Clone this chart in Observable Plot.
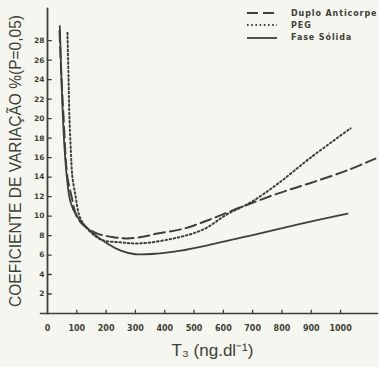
<!DOCTYPE html>
<html>
<head>
<meta charset="utf-8">
<script src="https://cdn.jsdelivr.net/npm/d3@7"></script>
<script src="https://cdn.jsdelivr.net/npm/@observablehq/plot@0.6"></script>
<style>
  html, body { margin: 0; padding: 0; background: #f5f6f0; }
  #wrap { position: relative; width: 379px; height: 367px; overflow: hidden; }
  #legend { position: absolute; left: 246px; top: 7px; font-family: "DejaVu Sans", sans-serif; font-weight: bold; font-size: 8px; letter-spacing: 0.9px; color: #3d4135; }
  #legend .row { display: flex; align-items: center; height: 12.3px; }
  #legend .swatch { margin-right: 13px; }
</style>
</head>
<body>
<div id="wrap"><div id="chart"></div><div id="legend"></div></div>
<script>
// ---- data ----
const xTicks = [0, 100, 200, 300, 400, 500, 600, 700, 800, 900, 1000];
const yTicks = [2, 4, 6, 8, 10, 12, 14, 16, 18, 20, 22, 24, 26, 28];
const xDomain = [0, 1126];
const yDomain = [0, 31.3];

const seriesNames = ["Duplo Anticorpe", "PEG", "Fase Sólida"];

const duploX = [41, 48, 55, 62, 68, 82, 99, 125, 170, 220, 273, 330, 375, 464, 550, 659, 785, 898, 1024, 1119];
const duploY = [29, 24, 20, 16, 14, 12, 10, 9.0, 8.2, 7.85, 7.7, 7.9, 8.2, 8.7, 9.6, 10.9, 12.3, 13.4, 14.7, 15.9];

const pegX = [68, 72, 75, 80, 85, 96, 109, 130, 181, 250, 317, 430, 530, 614, 693, 785, 898, 1034];
const pegY = [28.8, 24, 20, 16.5, 14, 12, 10, 8.9, 7.6, 7.3, 7.2, 7.7, 8.6, 10.2, 11.4, 13.3, 16.0, 19.0];

const solidX = [42, 50, 58, 66, 78, 100, 147, 205, 250, 300, 375, 454, 546, 693, 863, 1024];
const solidY = [29.5, 22, 17, 14, 11.5, 10, 8.45, 7.15, 6.45, 6.08, 6.15, 6.45, 7.0, 8.0, 9.2, 10.25];

const yTitle = "COEFICIENTE DE VARIAÇÃO %(P=0,05)";
const xTitle = "T\u2083 (ng.dl\u207B\u00B9)";

// ---- build ----
const ink = "#3d4135";
const toRows = (xs, ys) => xs.map((x, i) => ({x, y: ys[i]}));
const duplo = toRows(duploX, duploY);
const peg = toRows(pegX, pegY);
const solid = toRows(solidX, solidY);

// axis lines and small inward tick marks, built from the domains and tick lists
const xAxisLine = [{x: xDomain[0] - 24, y: yDomain[0]}, {x: xDomain[1], y: yDomain[0]}];
const yAxisLine = [{x: xDomain[0], y: yDomain[0]}, {x: xDomain[0], y: yDomain[1]}];
const xTickMarks = xTicks.slice(1).flatMap(t => [{x: t, y: 0, k: t}, {x: t, y: 0.35, k: t}]);
const yTickMarks = yTicks.flatMap(t => [{x: 0, y: t, k: t}, {x: 13, y: t, k: t}]);

const styles = [
  {strokeDasharray: "11,5", strokeWidth: 2},
  {strokeDasharray: "1.6,2.6", strokeWidth: 2},
  {strokeDasharray: "none", strokeWidth: 1.8}
];

const chart = Plot.plot({
  width: 379,
  height: 367,
  marginLeft: 47,
  marginRight: 2,
  marginTop: 8,
  marginBottom: 54,
  style: {background: "transparent", color: ink},
  x: {domain: xDomain},
  y: {domain: yDomain},
  marks: [
    Plot.axisX({ticks: xTicks, tickSize: 0, tickPadding: 12, label: null, tickFormat: d => String(d),
      fontSize: 8, fontWeight: "bold", fontFamily: "DejaVu Sans, sans-serif", fill: ink}),
    Plot.axisY({ticks: yTicks, tickSize: 0, tickPadding: 3, label: null, tickFormat: d => String(d),
      fontSize: 7.5, fontWeight: "bold", fontFamily: "DejaVu Sans, sans-serif", fill: ink}),
    Plot.line(xTickMarks, {x: "x", y: "y", z: "k", stroke: ink, strokeWidth: 1.3, clip: false}),
    Plot.line(yTickMarks, {x: "x", y: "y", z: "k", stroke: ink, strokeWidth: 1.3}),
    Plot.line(xAxisLine, {x: "x", y: "y", stroke: ink, strokeWidth: 1.6}),
    Plot.line(yAxisLine, {x: "x", y: "y", stroke: ink, strokeWidth: 1.8}),
    Plot.line(duplo, {x: "x", y: "y", stroke: ink, curve: "catmull-rom", ...styles[0]}),
    Plot.line(peg, {x: "x", y: "y", stroke: ink, curve: "catmull-rom", ...styles[1]}),
    Plot.line(solid, {x: "x", y: "y", stroke: ink, curve: "catmull-rom", ...styles[2]}),
    Plot.text([yTitle], {frameAnchor: "left", textAnchor: "middle", dx: -32, rotate: -90, fontSize: 16,
      fontFamily: "Liberation Sans, sans-serif", fill: ink}),
    Plot.text([xTitle], {frameAnchor: "bottom", dy: 42, fontSize: 17,
      fontFamily: "Liberation Sans, sans-serif", fill: ink})
  ]
});
document.getElementById("chart").appendChild(chart);
// compress the rotated y title to the reference's length
chart.querySelectorAll("text").forEach(t => {
  if (t.textContent === yTitle) {
    t.setAttribute("textLength", 292);
    t.setAttribute("lengthAdjust", "spacingAndGlyphs");
  }
});

// legend
const legend = document.getElementById("legend");
seriesNames.forEach((name, i) => {
  const row = document.createElement("div");
  row.className = "row";
  const s = styles[i];
  row.innerHTML = `<svg class="swatch" width="32" height="6"><line x1="1" y1="3" x2="31" y2="3" stroke="${ink}" stroke-width="${s.strokeWidth}" stroke-dasharray="${s.strokeDasharray}"/></svg><span>${name}</span>`;
  legend.appendChild(row);
});
</script>
</body>
</html>
